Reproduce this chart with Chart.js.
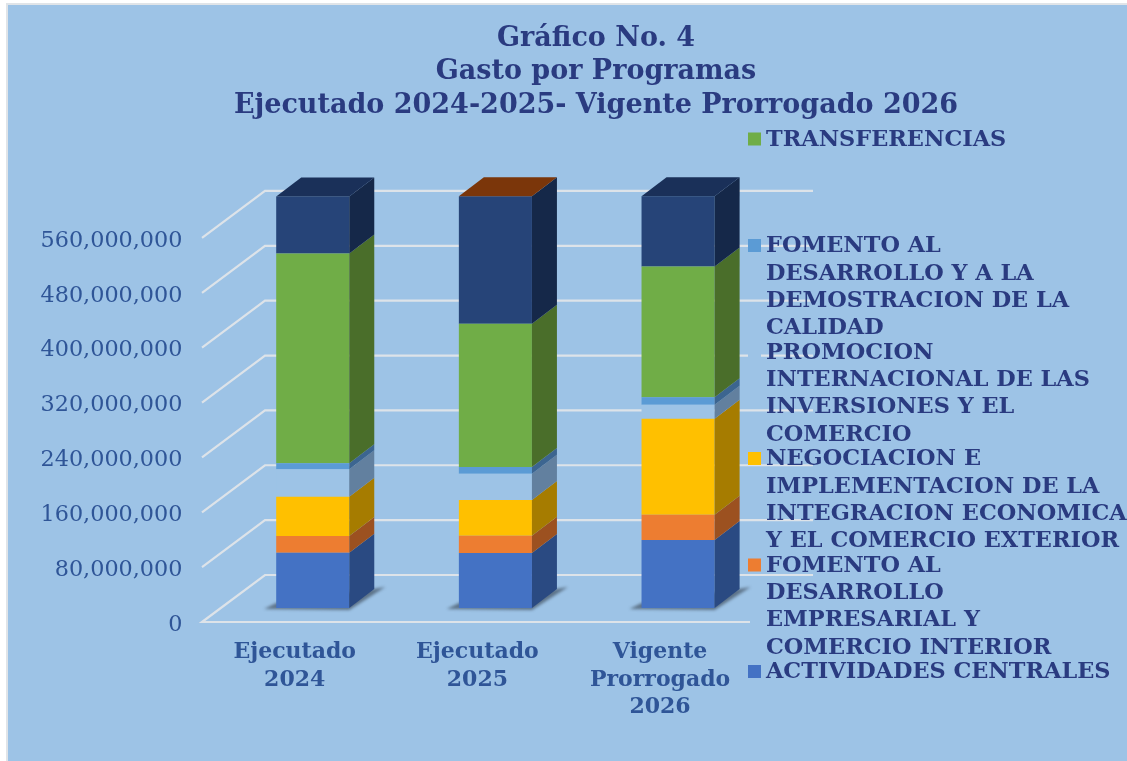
<!DOCTYPE html>
<html>
<head>
<meta charset="utf-8">
<title>Gasto por Programas</title>
<script src="https://cdn.jsdelivr.net/npm/chart.js@4/dist/chart.umd.min.js"></script>
<style>
  html,body{margin:0;padding:0;background:#fff;overflow:hidden}
  canvas{display:block}
</style>
</head>
<body>
<canvas id="c" width="1127" height="761"></canvas>
<script>
const titleLines = ["Gráfico No. 4","Gasto por Programas","Ejecutado 2024-2025- Vigente Prorrogado 2026"];
const categories = [["Ejecutado","2024"],["Ejecutado","2025"],["Vigente","Prorrogado","2026"]];
const yTickValues = [0,80000000,160000000,240000000,320000000,400000000,480000000,560000000];

// values in millions, bottom of the stack first
const actividades   = [80.6, 80.2, 99.2];
const fomentoEmp    = [24.4, 25.2, 36.9];
const negociacion   = [57.3, 52.0, 140.0];
const promocion     = [40.0, 38.4, 20.4];
const fomentoCal    = [8.8, 9.8, 10.8];
const transferencias= [306.0, 209.0, 190.5];
const otros         = [83.0, 185.8, 102.7];

const frontColors = ["#4472C4","#ED7D31","#FFC000","#9DC3E6","#5B9BD5","#70AD47","#264478"];
const sideColors  = ["#2A4A82","#9C5120","#A67C00","#62809F","#3C6590","#4A6E2A","#152849"];
const capColors   = ["#1A3059","#7B360A","#1A3059"];

const legendLabels = [
  ["TRANSFERENCIAS"],
  ["FOMENTO AL","DESARROLLO Y A LA","DEMOSTRACION DE LA","CALIDAD"],
  ["PROMOCION","INTERNACIONAL DE LAS","INVERSIONES Y EL","COMERCIO"],
  ["NEGOCIACION E","IMPLEMENTACION DE LA","INTEGRACION ECONOMICA","Y EL COMERCIO EXTERIOR"],
  ["FOMENTO AL","DESARROLLO","EMPRESARIAL Y","COMERCIO INTERIOR"],
  ["ACTIVIDADES CENTRALES"]
];
const legendColors = ["#70AD47","#5B9BD5","#9DC3E6","#FFC000","#ED7D31","#4472C4"];

const BG = "#9DC3E6";
const GRID = "#DDE3E9";
const SERIF = "'DejaVu Serif',serif";
const M = 1000000;
const PX_PER_M = 384/560;
const BAR_LIFT = 14;   // bars stand this far above the axis floor, in px
const LABEL_DROP = 3;  // tick text sits a little under its gridline

const series = [actividades,fomentoEmp,negociacion,promocion,fomentoCal,transferencias,otros];

const scene3d = {
  id:"scene3d",
  beforeDraw(chart){
    const g=chart.ctx;
    g.save();
    g.fillStyle="#fff"; g.fillRect(0,0,chart.width,chart.height);
    g.fillStyle="#E0E4E8"; g.fillRect(6,3,chart.width,chart.height);
    g.fillStyle=BG; g.fillRect(8,5,chart.width,chart.height);
    g.restore();
  },
  beforeDatasetsDraw(chart){
    const g=chart.ctx, a=chart.chartArea, yb=chart.scales.y;
    const x0=a.left-19.4, bx=x0+63, w=a.right-a.left;
    g.save();
    g.strokeStyle=GRID; g.lineWidth=2.2; g.lineJoin="miter";
    yTickValues.forEach(v=>{
      const y=yb.getPixelForValue(v)+BAR_LIFT;
      const by=y-47;
      g.beginPath();
      if(v===0){ g.moveTo(x0+w,y); g.lineTo(x0,y); g.lineTo(bx,by); g.lineTo(bx+w,by); }
      else { g.moveTo(x0,y); g.lineTo(bx,by); g.lineTo(bx+w,by); }
      g.stroke();
    });
    // floor shadow under each bar
    chart.getDatasetMeta(0).data.forEach(b=>{
      const l=b.x-b.width/2, r=b.x+b.width/2, y=b.base;
      g.save();
      g.filter="blur(1.5px)";
      g.fillStyle="rgba(40,50,60,.55)";
      g.beginPath();
      g.moveTo(l-12,y+1); g.lineTo(r,y+2); g.lineTo(r+36,y-21); g.lineTo(r+24,y-19); g.lineTo(l,y-5);
      g.closePath(); g.fill();
      g.restore();
    });
    g.restore();
  },
  afterDatasetsDraw(chart){
    const g=chart.ctx, dx=25, dy=-19;
    g.save();
    chart.data.datasets.forEach((ds,k)=>{
      chart.getDatasetMeta(k).data.forEach((b,i)=>{
        const r=b.x+b.width/2, l=b.x-b.width/2;
        g.fillStyle=sideColors[k];
        g.beginPath();
        g.moveTo(r,b.y); g.lineTo(r+dx,b.y+dy); g.lineTo(r+dx,b.base+dy); g.lineTo(r,b.base);
        g.closePath(); g.fill();
        if(k===chart.data.datasets.length-1){
          g.fillStyle=capColors[i];
          g.beginPath();
          g.moveTo(l,b.y); g.lineTo(l+dx,b.y+dy); g.lineTo(r+dx,b.y+dy); g.lineTo(r,b.y);
          g.closePath(); g.fill();
        }
      });
    });
    g.restore();
  },
  afterDraw(chart){
    const g=chart.ctx;
    g.save();
    g.font="bold 22.4px "+SERIF;
    g.textBaseline="middle"; g.textAlign="left";
    legendLabels.forEach((lines,i)=>{
      const y=139+i*106.5;
      g.fillStyle=legendColors[i];
      g.fillRect(748,y-6.5,13,13);
      g.fillStyle="#2A3B80";
      lines.forEach((s,j)=>g.fillText(s,766,y+1+j*27.3));
    });
    g.restore();
  }
};

new Chart(document.getElementById("c"),{
  type:"bar",
  data:{
    labels:categories,
    datasets:series.map((vals,k)=>({
      data:vals.map(v=>v*M),
      backgroundColor:frontColors[k],
      borderWidth:0,
      barPercentage:0.4,
      categoryPercentage:1,
      stack:"s",
      yAxisID:"y"
    }))
  },
  plugins:[scene3d],
  options:{
    responsive:false,
    animation:false,
    events:[],
    layout:{padding:{left:30,right:-35,top:0,bottom:0}},
    plugins:{
      legend:{display:false},
      tooltip:{enabled:false},
      title:{
        display:true,
        text:titleLines,
        color:"#2A3B80",
        font:{family:SERIF,size:27,weight:"bold",lineHeight:33.5/27},
        padding:{top:22,bottom:60.6}
      }
    },
    scales:{
      x:{
        stacked:true,
        grid:{display:false},
        border:{display:false},
        ticks:{color:"#2F5597",padding:9,labelOffset:-18,maxRotation:0,autoSkip:false,
          font:{family:SERIF,size:22,weight:"bold",lineHeight:27.5/22}},
        afterFit(s){ s.height=139; }
      },
      y1:{
        position:"left",
        min:LABEL_DROP/PX_PER_M*M,
        max:(640+LABEL_DROP/PX_PER_M)*M,
        grid:{display:false},
        border:{display:false},
        ticks:{color:"#2F5597",padding:31,
          font:{family:SERIF,size:22.3},
          callback:v=>v.toLocaleString("en-US")},
        afterBuildTicks(s){ s.ticks=yTickValues.map(v=>({value:v})); },
        afterFit(s){ s.width=191.4; }
      },
      // bars stand in front of the axis floor, so they run on their own scale
      y:{
        position:"right",
        stacked:true,
        min:-BAR_LIFT/PX_PER_M*M,
        max:(640-BAR_LIFT/PX_PER_M)*M,
        grid:{display:false},
        border:{display:false},
        ticks:{display:false},
        afterFit(s){ s.width=392.6; }
      }
    }
  }
});
</script>
</body>
</html>
